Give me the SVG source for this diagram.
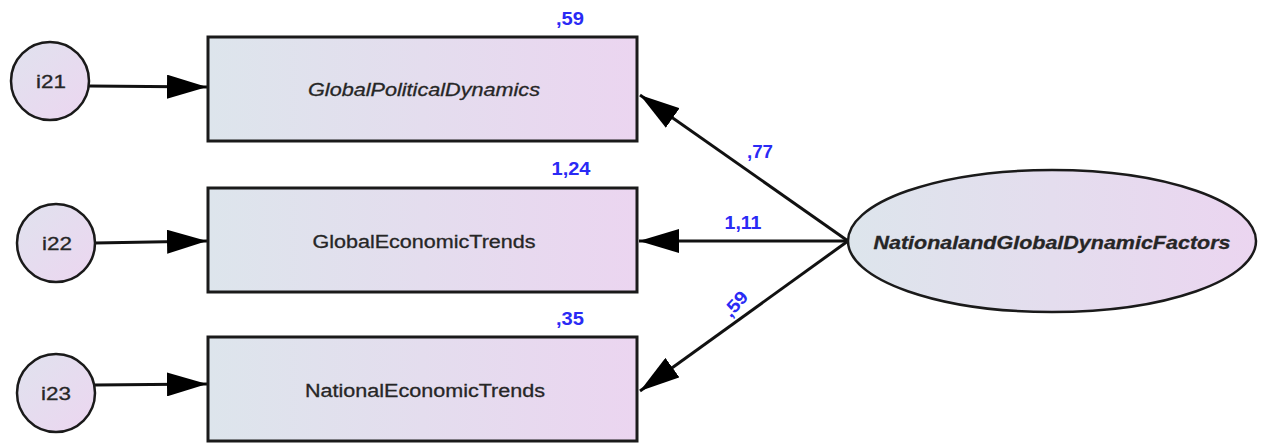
<svg xmlns="http://www.w3.org/2000/svg" width="1264" height="444" viewBox="0 0 1264 444">
  <style>
    .box { stroke: #1a1a1a; stroke-width: 3; fill: url(#grad); }
    .err { stroke: #1a1a1a; stroke-width: 2.5; fill: url(#gradC); }
    .lat { stroke: #1a1a1a; stroke-width: 2.5; fill: url(#grad); }
    .lbl { font-family: "Liberation Sans", Arial, sans-serif; font-size: 18px; fill: #262626; text-anchor: middle; stroke: #262626; stroke-width: 0.3; }
    .num { font-family: "Liberation Sans", Arial, sans-serif; font-size: 18px; font-weight: bold; fill: #2a2af5; text-anchor: middle; }
    .edge { stroke: #111; stroke-width: 3; fill: none; marker-end: url(#arrow); }
  </style>
  <defs>
    <linearGradient id="grad" x1="0" y1="0" x2="1" y2="0">
      <stop offset="0" stop-color="#dde5ec"/>
      <stop offset="1" stop-color="#ebd5f0"/>
    </linearGradient>
    <linearGradient id="gradC" x1="0" y1="0" x2="1" y2="1">
      <stop offset="0" stop-color="#e0e2ee"/>
      <stop offset="1" stop-color="#ecd6f0"/>
    </linearGradient>
    <marker id="arrow" viewBox="0 0 40 24" refX="40" refY="12" markerWidth="40" markerHeight="24" markerUnits="userSpaceOnUse" orient="auto">
      <path d="M0,0 L40,12 L0,24 Z" fill="#000"/>
    </marker>
  </defs>

  <g id="connectors">
    <line class="edge" x1="89" y1="86" x2="207" y2="87"/>
    <line class="edge" x1="95" y1="243" x2="207" y2="241"/>
    <line class="edge" x1="95" y1="385" x2="207" y2="384"/>
    <line class="edge" x1="848" y1="241" x2="640" y2="95"/>
    <line class="edge" x1="848" y1="241" x2="639" y2="241"/>
    <line class="edge" x1="848" y1="241" x2="640" y2="391"/>
  </g>

  <g id="i21">
    <circle class="err" cx="50" cy="81" r="39"/>
    <text class="lbl" x="51" y="88" textLength="30" lengthAdjust="spacingAndGlyphs">i21</text>
  </g>
  <g id="i22">
    <circle class="err" cx="56" cy="243" r="39"/>
    <text class="lbl" x="57" y="250" textLength="30" lengthAdjust="spacingAndGlyphs">i22</text>
  </g>
  <g id="i23">
    <circle class="err" cx="56" cy="393" r="39"/>
    <text class="lbl" x="56" y="400" textLength="30" lengthAdjust="spacingAndGlyphs">i23</text>
  </g>

  <g id="GlobalPoliticalDynamics">
    <rect class="box" x="208" y="37" width="429" height="104"/>
    <text class="lbl" x="424" y="96" font-style="italic" textLength="232" lengthAdjust="spacingAndGlyphs">GlobalPoliticalDynamics</text>
    <text class="num" x="570" y="25" textLength="28" lengthAdjust="spacingAndGlyphs">,59</text>
  </g>
  <g id="GlobalEconomicTrends">
    <rect class="box" x="208" y="188" width="429" height="104"/>
    <text class="lbl" x="424" y="248" textLength="223" lengthAdjust="spacingAndGlyphs">GlobalEconomicTrends</text>
    <text class="num" x="571" y="175" textLength="39" lengthAdjust="spacingAndGlyphs">1,24</text>
  </g>
  <g id="NationalEconomicTrends">
    <rect class="box" x="208" y="337" width="429" height="104"/>
    <text class="lbl" x="425" y="397" textLength="240" lengthAdjust="spacingAndGlyphs">NationalEconomicTrends</text>
    <text class="num" x="570" y="325" textLength="28" lengthAdjust="spacingAndGlyphs">,35</text>
  </g>

  <g id="NationalandGlobalDynamicFactors">
    <ellipse class="lat" cx="1052" cy="241" rx="204" ry="71"/>
    <text class="lbl" x="1052" y="249" font-style="italic" font-weight="bold" textLength="357" lengthAdjust="spacingAndGlyphs">NationalandGlobalDynamicFactors</text>
  </g>

  <g id="path-labels">
    <text class="num" x="760" y="158" textLength="26" lengthAdjust="spacingAndGlyphs">,77</text>
    <text class="num" x="743" y="229" textLength="37" lengthAdjust="spacingAndGlyphs">1,11</text>
    <text class="num" transform="translate(740,308) rotate(-48)" textLength="28" lengthAdjust="spacingAndGlyphs">,59</text>
  </g>
</svg>
